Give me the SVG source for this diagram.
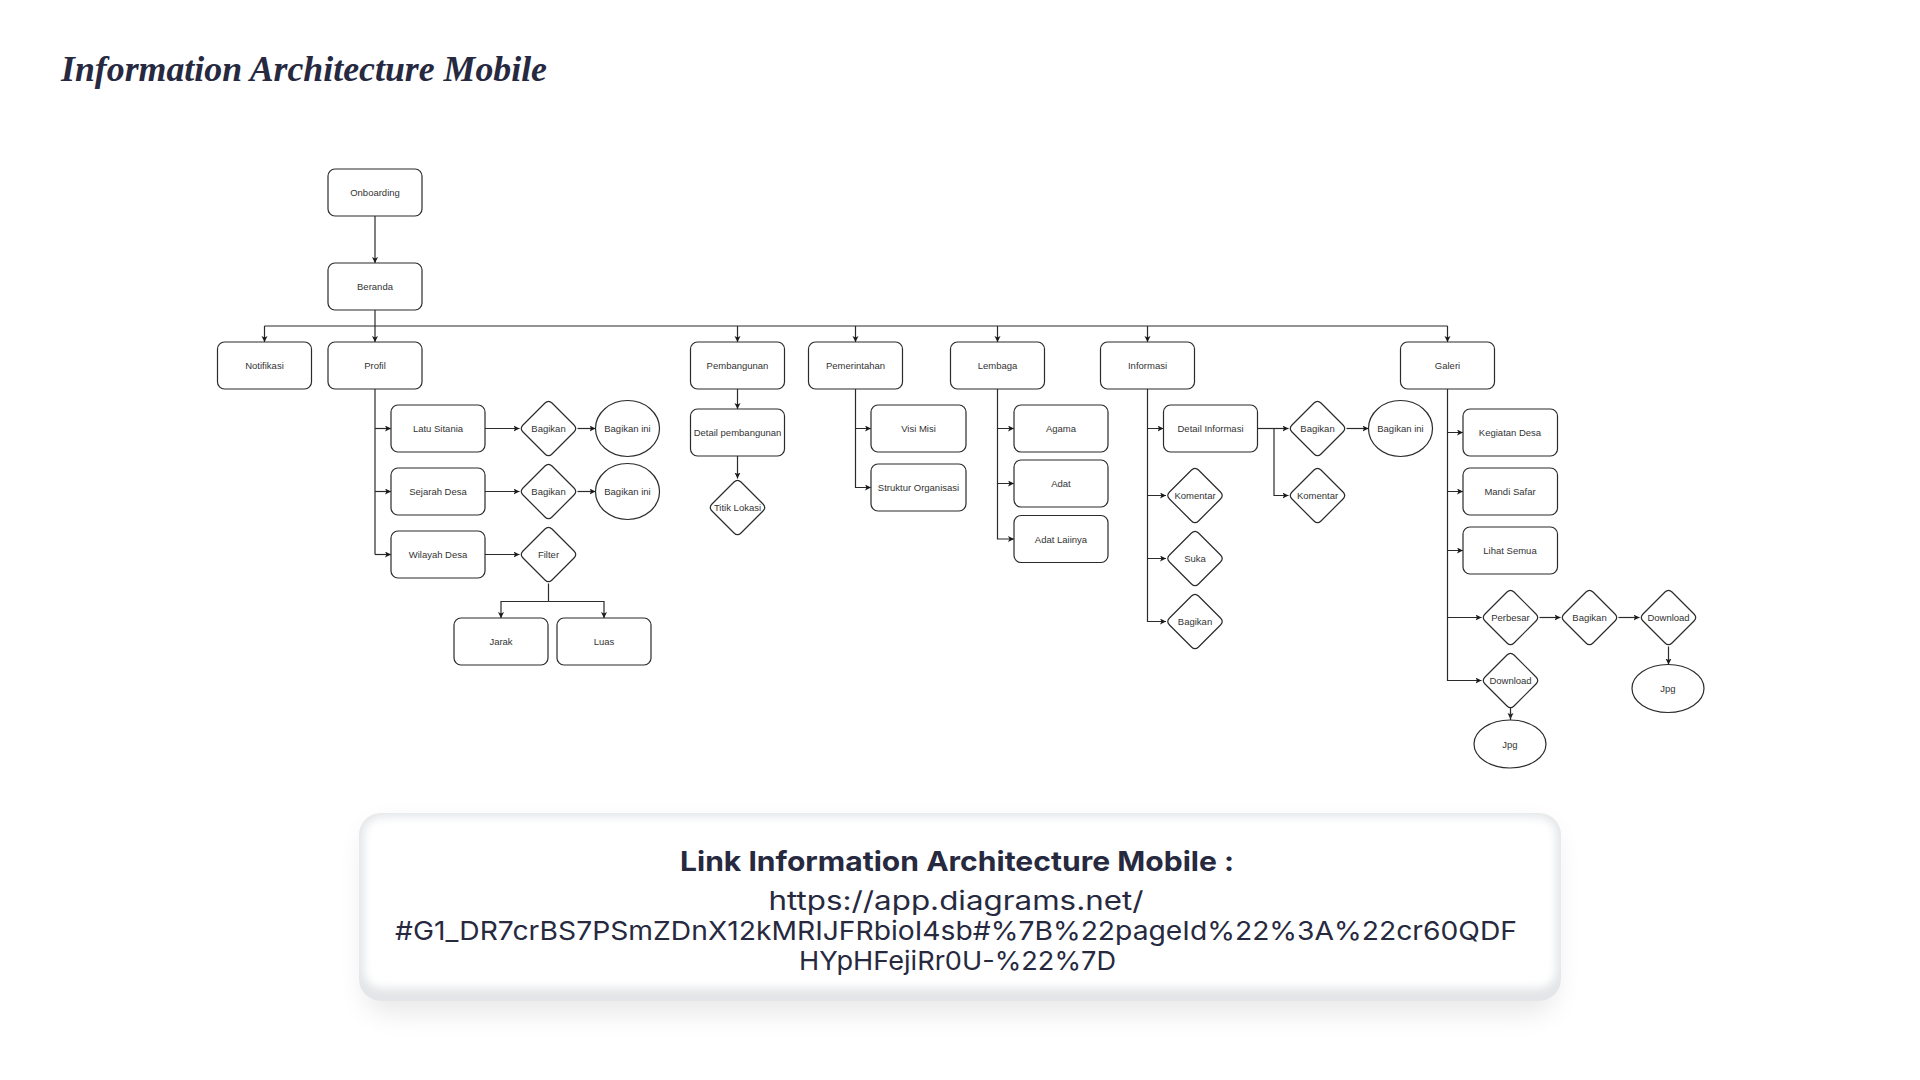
<svg xmlns="http://www.w3.org/2000/svg" xmlns:xlink="http://www.w3.org/1999/xlink" width="1920" height="1080" viewBox="0 0 1920 1080">
<style>
.n rect,.n ellipse,.n use{fill:#fff;stroke:#2b2b2b;stroke-width:1.2}
.n text{font-family:"Liberation Sans",Arial,sans-serif;font-size:9.5px;fill:#333;text-anchor:middle}
.c path{fill:none;stroke:#2b2b2b;stroke-width:1.2}
.c .a{marker-end:url(#arr)}
.card{font-family:Inter,"Noto Sans",sans-serif;fill:#272a3f;text-anchor:middle}
</style>
<defs>
<marker id="arr" markerUnits="userSpaceOnUse" markerWidth="7" markerHeight="7" refX="6" refY="3" orient="auto" viewBox="0 0 7 7">
<path d="M0,0 L6,3 L0,6 L1.5,3 z" fill="#1a1a1a"/>
</marker>
<path id="dia" d="M3.5,-25.5 L25.5,-3.5 Q29,0 25.5,3.5 L3.5,25.5 Q0,29 -3.5,25.5 L-25.5,3.5 Q-29,0 -25.5,-3.5 L-3.5,-25.5 Q0,-29 3.5,-25.5 Z"/>
<filter id="sh" x="-10%" y="-30%" width="120%" height="170%"><feGaussianBlur stdDeviation="14"/></filter>
<filter id="soft" x="-5%" y="-20%" width="110%" height="140%"><feGaussianBlur stdDeviation="4"/></filter>
</defs>
<rect width="1920" height="1080" fill="#fff"/>
<text x="61" y="81" font-family="'Liberation Serif',serif" font-weight="bold" font-style="italic" font-size="36" fill="#262940" textLength="486" lengthAdjust="spacingAndGlyphs">Information Architecture Mobile</text>

<g id="connectors" class="c">
<path class="a" d="M375,216 V263"/>
<path d="M375,310 V326"/>
<path d="M264.5,326 H1447.5"/>
<path class="a" d="M264.5,326 V342"/>
<path class="a" d="M375,326 V342"/>
<path class="a" d="M737.5,326 V342"/>
<path class="a" d="M855.5,326 V342"/>
<path class="a" d="M997.5,326 V342"/>
<path class="a" d="M1147.5,326 V342"/>
<path class="a" d="M1447.5,326 V342"/>
<path d="M375,389 V554.5"/>
<path class="a" d="M375,428.5 H391"/>
<path class="a" d="M375,491.5 H391"/>
<path class="a" d="M375,554.5 H391"/>
<path class="a" d="M485,428.5 H519.5"/>
<path class="a" d="M485,491.5 H519.5"/>
<path class="a" d="M485,554.5 H519.5"/>
<path class="a" d="M577.5,428.5 H595.5"/>
<path class="a" d="M577.5,491.5 H595.5"/>
<path d="M548.5,583.5 V601.5"/>
<path class="a" d="M548.5,601.5 H501 V618"/>
<path class="a" d="M548.5,601.5 H604 V618"/>
<path class="a" d="M737.5,389 V409"/>
<path class="a" d="M737.5,456 V478.5"/>
<path class="a" d="M855.5,389 V428.5 H871"/>
<path class="a" d="M855.5,428.5 V487.5 H871"/>
<path class="a" d="M997.5,389 V428.5 H1014"/>
<path class="a" d="M997.5,428.5 V483.5 H1014"/>
<path class="a" d="M997.5,483.5 V539 H1014"/>
<path class="a" d="M1147.5,389 V428.5 H1163.5"/>
<path class="a" d="M1147.5,428.5 V495.5 H1166"/>
<path class="a" d="M1147.5,495.5 V558.5 H1166"/>
<path class="a" d="M1147.5,558.5 V621.5 H1166"/>
<path class="a" d="M1257.5,428.5 H1288.5"/>
<path class="a" d="M1274,428.5 V495.5 H1288.5"/>
<path class="a" d="M1346.5,428.5 H1368.5"/>
<path class="a" d="M1447.5,389 V432.5 H1463"/>
<path class="a" d="M1447.5,432.5 V491.5 H1463"/>
<path class="a" d="M1447.5,491.5 V550.5 H1463"/>
<path class="a" d="M1447.5,550.5 V617.5 H1481.5"/>
<path class="a" d="M1447.5,617.5 V680.5 H1481.5"/>
<path class="a" d="M1539.5,617.5 H1560.5"/>
<path class="a" d="M1618.5,617.5 H1639.5"/>
<path class="a" d="M1668.5,646.5 V664.5"/>
<path class="a" d="M1510.5,704 V719"/>
<path d="M1510.5,712 V728"/>
</g>

<g class="n">
<g id="onboarding"><rect x="328" y="169" width="94" height="47" rx="7"/><text x="375" y="196">Onboarding</text></g>
<g id="beranda"><rect x="328" y="263" width="94" height="47" rx="7"/><text x="375" y="290">Beranda</text></g>
<g id="notifikasi"><rect x="217.5" y="342" width="94" height="47" rx="7"/><text x="264.5" y="369">Notifikasi</text></g>
<g id="profil"><rect x="328" y="342" width="94" height="47" rx="7"/><text x="375" y="369">Profil</text></g>
<g id="pembangunan"><rect x="690.5" y="342" width="94" height="47" rx="7"/><text x="737.5" y="369">Pembangunan</text></g>
<g id="pemerintahan"><rect x="808.5" y="342" width="94" height="47" rx="7"/><text x="855.5" y="369">Pemerintahan</text></g>
<g id="lembaga"><rect x="950.5" y="342" width="94" height="47" rx="7"/><text x="997.5" y="369">Lembaga</text></g>
<g id="informasi"><rect x="1100.5" y="342" width="94" height="47" rx="7"/><text x="1147.5" y="369">Informasi</text></g>
<g id="galeri"><rect x="1400.5" y="342" width="94" height="47" rx="7"/><text x="1447.5" y="369">Galeri</text></g>

<g id="latu-sitania"><rect x="391" y="405" width="94" height="47" rx="7"/><text x="438" y="432">Latu Sitania</text></g>
<g id="sejarah-desa"><rect x="391" y="468" width="94" height="47" rx="7"/><text x="438" y="495">Sejarah Desa</text></g>
<g id="wilayah-desa"><rect x="391" y="531" width="94" height="47" rx="7"/><text x="438" y="558">Wilayah Desa</text></g>
<g id="bagikan-1"><use xlink:href="#dia" href="#dia" x="548.5" y="428.5"/><text x="548.5" y="432">Bagikan</text></g>
<g id="bagikan-2"><use xlink:href="#dia" href="#dia" x="548.5" y="491.5"/><text x="548.5" y="495">Bagikan</text></g>
<g id="filter"><use xlink:href="#dia" href="#dia" x="548.5" y="554.5"/><text x="548.5" y="558">Filter</text></g>
<g id="bagikan-ini-1"><ellipse cx="627.5" cy="428.5" rx="32" ry="28"/><text x="627.5" y="432">Bagikan ini</text></g>
<g id="bagikan-ini-2"><ellipse cx="627.5" cy="491.5" rx="32" ry="28"/><text x="627.5" y="495">Bagikan ini</text></g>
<g id="jarak"><rect x="454" y="618" width="94" height="47" rx="7"/><text x="501" y="645">Jarak</text></g>
<g id="luas"><rect x="557" y="618" width="94" height="47" rx="7"/><text x="604" y="645">Luas</text></g>

<g id="detail-pembangunan"><rect x="690.5" y="409" width="94" height="47" rx="7"/><text x="737.5" y="436">Detail pembangunan</text></g>
<g id="titik-lokasi"><use xlink:href="#dia" href="#dia" x="737.5" y="507.5"/><text x="737.5" y="511">Titik Lokasi</text></g>

<g id="visi-misi"><rect x="871" y="405" width="95" height="47" rx="7"/><text x="918.5" y="432">Visi Misi</text></g>
<g id="struktur-organisasi"><rect x="871" y="464" width="95" height="47" rx="7"/><text x="918.5" y="491">Struktur Organisasi</text></g>

<g id="agama"><rect x="1014" y="405" width="94" height="47" rx="7"/><text x="1061" y="432">Agama</text></g>
<g id="adat"><rect x="1014" y="460" width="94" height="47" rx="7"/><text x="1061" y="487">Adat</text></g>
<g id="adat-lainya"><rect x="1014" y="515.5" width="94" height="47" rx="7"/><text x="1061" y="542.5">Adat Laiinya</text></g>

<g id="detail-informasi"><rect x="1163.5" y="405" width="94" height="47" rx="7"/><text x="1210.5" y="432">Detail Informasi</text></g>
<g id="komentar-1"><use xlink:href="#dia" href="#dia" x="1195" y="495.5"/><text x="1195" y="499">Komentar</text></g>
<g id="suka"><use xlink:href="#dia" href="#dia" x="1195" y="558.5"/><text x="1195" y="562">Suka</text></g>
<g id="bagikan-3"><use xlink:href="#dia" href="#dia" x="1195" y="621.5"/><text x="1195" y="625">Bagikan</text></g>
<g id="bagikan-4"><use xlink:href="#dia" href="#dia" x="1317.5" y="428.5"/><text x="1317.5" y="432">Bagikan</text></g>
<g id="komentar-2"><use xlink:href="#dia" href="#dia" x="1317.5" y="495.5"/><text x="1317.5" y="499">Komentar</text></g>
<g id="bagikan-ini-3"><ellipse cx="1400.5" cy="428.5" rx="32" ry="28"/><text x="1400.5" y="432">Bagikan ini</text></g>

<g id="kegiatan-desa"><rect x="1463" y="409" width="94.5" height="47" rx="7"/><text x="1510" y="436">Kegiatan Desa</text></g>
<g id="mandi-safar"><rect x="1463" y="468" width="94.5" height="47" rx="7"/><text x="1510" y="495">Mandi Safar</text></g>
<g id="lihat-semua"><rect x="1463" y="527" width="94.5" height="47" rx="7"/><text x="1510" y="554">Lihat Semua</text></g>
<g id="perbesar"><use xlink:href="#dia" href="#dia" x="1510.5" y="617.5"/><text x="1510.5" y="621">Perbesar</text></g>
<g id="bagikan-5"><use xlink:href="#dia" href="#dia" x="1589.5" y="617.5"/><text x="1589.5" y="621">Bagikan</text></g>
<g id="download-1"><use xlink:href="#dia" href="#dia" x="1668.5" y="617.5"/><text x="1668.5" y="621">Download</text></g>
<g id="jpg-1"><ellipse cx="1668" cy="688.5" rx="36" ry="24"/><text x="1668" y="692">Jpg</text></g>
<g id="download-2"><use xlink:href="#dia" href="#dia" x="1510.5" y="680.5"/><text x="1510.5" y="684">Download</text></g>
<g id="jpg-2"><ellipse cx="1510" cy="744" rx="36" ry="24"/><text x="1510" y="747.5">Jpg</text></g>
</g>

<g id="link-card">
<rect x="365" y="825" width="1190" height="188" rx="22" fill="#000" opacity="0.09" filter="url(#sh)"/>
<rect x="359" y="813" width="1202" height="188" rx="22" fill="#e3e6e8"/>
<rect x="364" y="817" width="1192" height="171" rx="18" fill="#fff" filter="url(#soft)"/>
<text class="card" x="957" y="871" font-size="27" font-weight="700" textLength="554" lengthAdjust="spacingAndGlyphs">Link Information Architecture Mobile :</text>
<text class="card" x="956" y="910" font-size="26" textLength="375" lengthAdjust="spacingAndGlyphs">https://app.diagrams.net/</text>
<text class="card" x="956" y="940" font-size="26" textLength="1122" lengthAdjust="spacingAndGlyphs">#G1_DR7crBS7PSmZDnX12kMRIJFRbioI4sb#%7B%22pageId%22%3A%22cr60QDF</text>
<text class="card" x="957.5" y="970" font-size="26" textLength="317" lengthAdjust="spacingAndGlyphs">HYpHFejiRr0U-%22%7D</text>
</g>
</svg>
